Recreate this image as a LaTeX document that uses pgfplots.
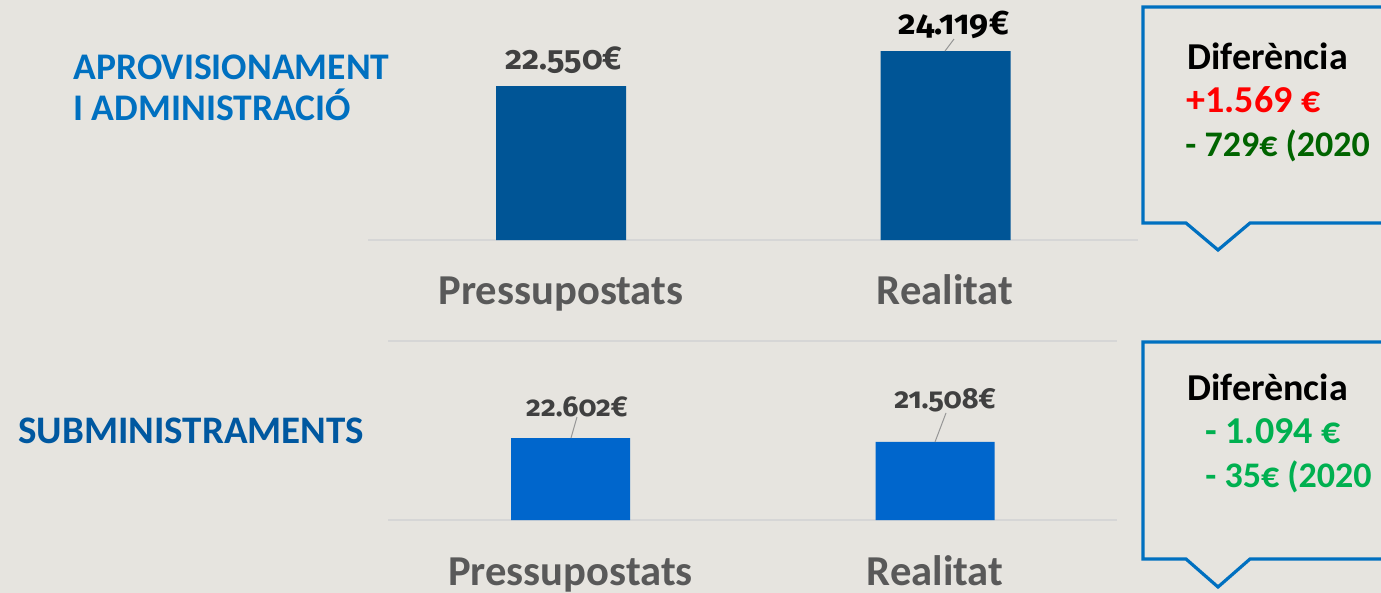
\documentclass[border=0pt]{standalone}
\usepackage{pgfplots}
\pgfplotsset{compat=1.18}
\usepackage{fontspec}
\setmainfont{Carlito}
\newfontfamily\osf{Fira Sans}[Numbers=OldStyle]
\definecolor{bg}{RGB}{230,228,223}
\definecolor{topblue}{RGB}{0,85,150}
\definecolor{botblue}{RGB}{0,102,204}
\definecolor{lblblue}{RGB}{0,112,192}
\definecolor{lblblue2}{RGB}{0,88,160}
\definecolor{boxblue}{RGB}{0,112,192}
\definecolor{labgray}{RGB}{89,89,89}
\definecolor{valgray}{RGB}{64,64,64}
\definecolor{linegray}{RGB}{214,214,214}
\definecolor{leader}{RGB}{150,150,150}
\definecolor{dgreen}{RGB}{0,100,0}
\definecolor{lgreen}{RGB}{0,176,80}
\begin{document}
\begin{tikzpicture}
\useasboundingbox (0,0) rectangle (690.5pt,-296.5pt);
\clip (0,0) rectangle (690.5pt,-296.5pt);
\fill[bg] (0,0) rectangle (690.5pt,-296.5pt);
% left labels
\node[anchor=base west, inner sep=0, text=lblblue, font=\fontsize{18.8}{22}\selectfont\bfseries] at (36.5pt,-40pt) {APROVISIONAMENT};
\node[anchor=base west, inner sep=0, text=lblblue, font=\fontsize{18.8}{22}\selectfont\bfseries] at (36.5pt,-60.5pt) {I ADMINISTRACIÓ};
\node[anchor=base west, inner sep=0, text=lblblue2, font=\fontsize{19.5}{22}\selectfont\bfseries] at (9pt,-221.5pt) {SUBMINISTRAMENTS};
% separator line
\draw[linegray, line width=0.8pt] (194pt,-170.5pt) -- (558.5pt,-170.5pt);
% top chart
\begin{axis}[
 at={(184pt,-120pt)}, anchor=south west,
 scale only axis, width=385pt, height=110pt,
 xmin=368, xmax=1138, ymin=15645, ymax=25510,
 clip mode=individual,
 axis x line*=bottom, axis y line=none,
 x axis line style={draw=linegray, line width=0.8pt, -},
 xtick={561,945}, xticklabels={Pressupostats,Realitat},
 major tick length=0pt,
 xticklabel style={font=\fontsize{21.3}{24}\selectfont\bfseries, text=labgray, anchor=base, yshift=-32pt},
 ybar, bar width=65pt,
]
\addplot[fill=topblue, draw=none] coordinates {(561,22550) (945.5,24119)};
\node[anchor=base, inner sep=0, text=valgray, font=\fontsize{16.5}{20}\selectfont\bfseries\osf] at (axis cs:564,22550) [yshift=8.5pt] {22.550€};
\node[anchor=base, inner sep=0, text=black, font=\fontsize{17}{20}\selectfont\bfseries\osf] at (axis cs:954,24119) [yshift=8.5pt] {24.119€};
\draw[leader, line width=0.5pt] (axis cs:945,24119) -- ++(4.5pt,6pt);
\end{axis}
% bottom chart
\begin{axis}[
 at={(194pt,-260pt)}, anchor=south west,
 scale only axis, width=364.5pt, height=89.5pt,
 xmin=388, xmax=1117, ymin=0, ymax=49340,
 clip mode=individual,
 axis x line*=bottom, axis y line=none,
 x axis line style={draw=linegray, line width=0.8pt, -},
 xtick={570.5,935}, xticklabels={Pressupostats,Realitat},
 major tick length=0pt,
 xticklabel style={font=\fontsize{21.3}{24}\selectfont\bfseries, text=labgray, anchor=base, yshift=-32.5pt},
 ybar, bar width=59.5pt,
]
\addplot[fill=botblue, draw=none] coordinates {(570.5,22602) (935,21508)};
\node[anchor=base, inner sep=0, text=valgray, font=\fontsize{14.3}{18}\selectfont\bfseries\osf] at (axis cs:577,22602) [yshift=11pt] {22.602€};
\node[anchor=base, inner sep=0, text=valgray, font=\fontsize{14.5}{18}\selectfont\bfseries\osf] at (axis cs:945,21508) [yshift=16.5pt] {21.508€};
\draw[leader, line width=0.5pt] (axis cs:571,22602) -- ++(3pt,10.5pt);
\draw[leader, line width=0.5pt] (axis cs:935,21508) -- ++(5.5pt,14.5pt);
\end{axis}
% callouts
\draw[boxblue, line width=1.6pt, line join=miter] (696pt,-3.5pt) -- (571.5pt,-3.5pt) -- (571.5pt,-111.5pt) -- (593pt,-111.5pt) -- (609pt,-125pt) -- (625pt,-111.5pt) -- (696pt,-111.5pt);
\draw[boxblue, line width=1.6pt, line join=miter] (696pt,-171pt) -- (571.5pt,-171pt) -- (571.5pt,-279.5pt) -- (593pt,-279.5pt) -- (609pt,-293.5pt) -- (625pt,-279.5pt) -- (696pt,-279.5pt);
\begin{scope}[every node/.style={anchor=base west, inner sep=0, font=\fontsize{19}{22}\selectfont\bfseries}]
\node[text=black] at (593.5pt,-35pt) {Diferència};
\node[text=red] at (593pt,-56.5pt) {+1.569 €};
\node[text=dgreen, font=\fontsize{18}{22}\selectfont\bfseries] at (592.5pt,-78.5pt) {- 729€ (2020};
\node[text=black] at (593.5pt,-200pt) {Diferència};
\node[text=lgreen] at (602.5pt,-221.5pt) {- 1.094 €};
\node[text=lgreen, font=\fontsize{18}{22}\selectfont\bfseries] at (602.5pt,-243.5pt) {- 35€ (2020};
\end{scope}
\end{tikzpicture}
\end{document}
